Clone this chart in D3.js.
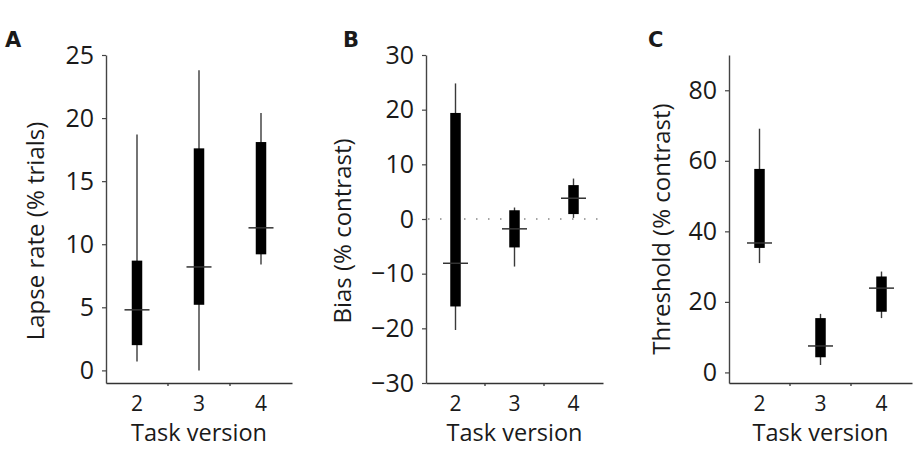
<!DOCTYPE html>
<html>
<head>
<meta charset="utf-8">
<script src="https://cdn.jsdelivr.net/npm/d3@7"></script>
<style>
  html, body { margin: 0; padding: 0; background: #fff; }
  svg { display: block; }
  text { font-family: "Open Sans", "Noto Sans", sans-serif; fill: #1a1a1a; }
</style>
</head>
<body>
<svg id="chart" width="915" height="456"></svg>
<script>
// ---- Data ----
const categories = ["2", "3", "4"];

// Panel A: Lapse rate (% trials)
const lapseWhiskerLow  = [0.7, 0.0, 8.4];
const lapseBoxLow      = [2.0, 5.2, 9.2];
const lapseMedian      = [4.8, 8.2, 11.3];
const lapseBoxHigh     = [8.7, 17.6, 18.1];
const lapseWhiskerHigh = [18.7, 23.8, 20.4];
const lapseTicks = [0, 5, 10, 15, 20, 25];

// Panel B: Bias (% contrast)
const biasWhiskerLow  = [-20.3, -8.7, 0.2];
const biasBoxLow      = [-16.0, -5.2, 0.9];
const biasMedian      = [-8.1, -1.8, 3.8];
const biasBoxHigh     = [19.4, 1.6, 6.2];
const biasWhiskerHigh = [24.8, 2.1, 7.4];
const biasTicks = [-30, -20, -10, 0, 10, 20, 30];

// Panel C: Threshold (% contrast)
const threshWhiskerLow  = [31.0, 2.1, 15.4];
const threshBoxLow      = [35.3, 4.3, 17.2];
const threshMedian      = [36.7, 7.5, 23.9];
const threshBoxHigh     = [57.7, 15.4, 27.2];
const threshWhiskerHigh = [69.1, 16.6, 28.6];
const threshTicks = [0, 20, 40, 60, 80];

const panelLetters = ["A", "B", "C"];
const yTitles = ["Lapse rate (% trials)", "Bias (% contrast)", "Threshold (% contrast)"];
const xTitle = "Task version";

// ---- Layout ----
const plotTop = 55, plotBottom = 383;
const panels = [
  { letter: panelLetters[0], x0: 106, x1: 292, domain: [-1, 25], ticks: lapseTicks, title: yTitles[0],
    wl: lapseWhiskerLow, bl: lapseBoxLow, md: lapseMedian, bh: lapseBoxHigh, wh: lapseWhiskerHigh,
    letterX: 5, titleX: 44, titleY: 231, zeroLine: false },
  { letter: panelLetters[1], x0: 426, x1: 603, domain: [-30, 30], ticks: biasTicks, title: yTitles[1],
    wl: biasWhiskerLow, bl: biasBoxLow, md: biasMedian, bh: biasBoxHigh, wh: biasWhiskerHigh,
    letterX: 343, titleX: 351, titleY: 231, zeroLine: true },
  { letter: panelLetters[2], x0: 729, x1: 912, domain: [-3, 90], ticks: threshTicks, title: yTitles[2],
    wl: threshWhiskerLow, bl: threshBoxLow, md: threshMedian, bh: threshBoxHigh, wh: threshWhiskerHigh,
    letterX: 648, titleX: 670, titleY: 229, zeroLine: false }
];

const svg = d3.select("#chart");
const boxW = 10.5, medW = 25;

panels.forEach(p => {
  const g = svg.append("g");
  const x = d3.scaleBand().domain(categories).range([p.x0, p.x1]).padding(0);
  const y = d3.scaleLinear().domain(p.domain).range([plotBottom, plotTop]);

  // Zero reference line (dotted)
  if (p.zeroLine) {
    g.append("line")
      .attr("x1", p.x0 + 2).attr("x2", p.x1)
      .attr("y1", y(0)).attr("y2", y(0))
      .attr("stroke", "#888").attr("stroke-width", 1.3)
      .attr("stroke-dasharray", "1.5,10.5");
  }

  // Y axis
  const yAxis = g.append("g")
    .attr("transform", `translate(${p.x0},0)`)
    .call(d3.axisLeft(y).tickValues(p.ticks).tickSize(4).tickPadding(8).tickSizeOuter(0));
  yAxis.select(".domain").attr("stroke", "#444").attr("stroke-width", 1.4);
  yAxis.selectAll(".tick line").attr("stroke", "#444").attr("stroke-width", 1.2);
  yAxis.selectAll(".tick text")
    .attr("font-size", 25).attr("fill", "#1a1a1a")
    .style("font-family", "'Open Sans', sans-serif");

  // X axis
  const xAxis = g.append("g")
    .attr("transform", `translate(0,${plotBottom})`)
    .call(d3.axisBottom(x).tickSize(0).tickPadding(13));
  xAxis.select(".domain").attr("stroke", "#333").attr("stroke-width", 1.5);
  xAxis.selectAll(".tick text")
    .attr("font-size", 21).attr("fill", "#1a1a1a")
    .style("font-family", "'Open Sans', sans-serif");
  // inner tick marks at band boundaries
  g.selectAll(".btick")
    .data(categories.slice(1))
    .join("line")
    .attr("x1", d => x(d)).attr("x2", d => x(d))
    .attr("y1", plotBottom).attr("y2", plotBottom + 3)
    .attr("stroke", "#333").attr("stroke-width", 1.3);

  const cx = d => x(d) + x.bandwidth() / 2;

  // Whiskers
  g.selectAll(".whisker")
    .data(categories)
    .join("line")
    .attr("x1", cx).attr("x2", cx)
    .attr("y1", (d, i) => y(p.wl[i])).attr("y2", (d, i) => y(p.wh[i]))
    .attr("stroke", "#3a3a3a").attr("stroke-width", 1.4);

  // Boxes
  g.selectAll(".box")
    .data(categories)
    .join("rect")
    .attr("x", d => cx(d) - boxW / 2)
    .attr("width", boxW)
    .attr("y", (d, i) => y(p.bh[i]))
    .attr("height", (d, i) => y(p.bl[i]) - y(p.bh[i]))
    .attr("fill", "#000");

  // Median lines
  g.selectAll(".median")
    .data(categories)
    .join("line")
    .attr("x1", d => cx(d) - medW / 2).attr("x2", d => cx(d) + medW / 2)
    .attr("y1", (d, i) => y(p.md[i])).attr("y2", (d, i) => y(p.md[i]))
    .attr("stroke", "#333").attr("stroke-width", 1.5);

  // X title
  g.append("text")
    .attr("x", (p.x0 + p.x1) / 2)
    .attr("y", 441)
    .attr("text-anchor", "middle")
    .attr("font-size", 23.5)
    .text(xTitle);

  // Y title
  g.append("text")
    .attr("transform", `translate(${p.titleX},${p.titleY}) rotate(-90)`)
    .attr("text-anchor", "middle")
    .attr("font-size", 24)
    .text(p.title);

  // Panel letter
  g.append("text")
    .attr("x", p.letterX)
    .attr("y", 47)
    .attr("font-size", 21)
    .attr("font-weight", "bold")
    .style("font-family", "'DejaVu Sans', sans-serif")
    .attr("fill", "#000")
    .text(p.letter);
});
</script>
</body>
</html>
